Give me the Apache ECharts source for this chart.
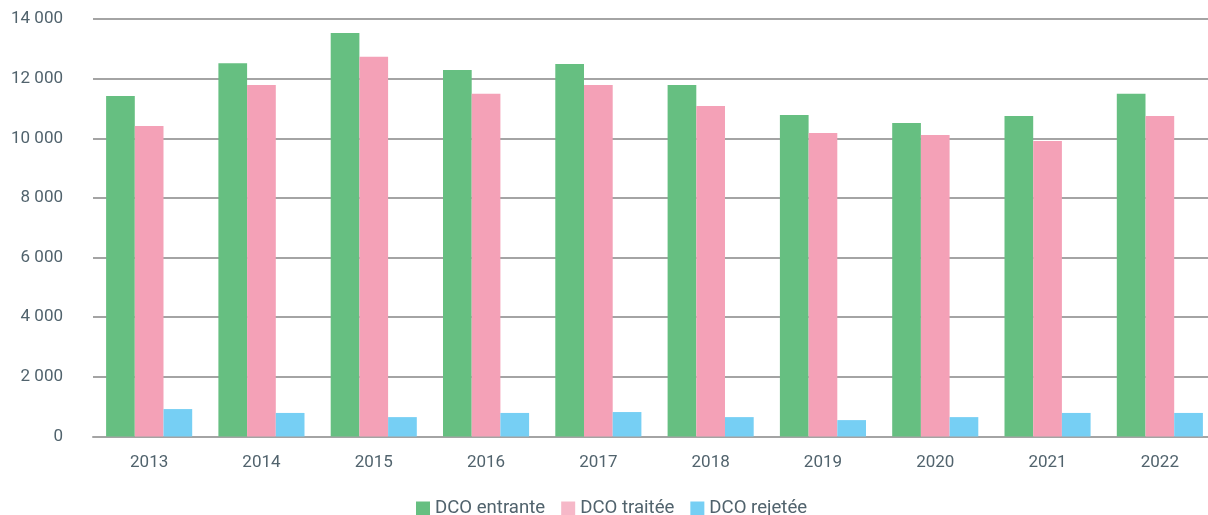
<!DOCTYPE html>
<html>
<head>
<meta charset="utf-8">
<script src="https://cdn.jsdelivr.net/npm/echarts@6/dist/echarts.min.js"></script>
<style>
  html, body { margin: 0; padding: 0; background: #fff; overflow: hidden; }
  #chart { width: 1216px; height: 515px; }
</style>
</head>
<body>
<div id="chart"></div>
<script>
const years = ['2013', '2014', '2015', '2016', '2017', '2018', '2019', '2020', '2021', '2022']
const entrante = [11420, 12520, 13530, 12290, 12490, 11790, 10780, 10510, 10750, 11490]
const traitee = [10410, 11790, 12730, 11490, 11790, 11080, 10180, 10110, 9910, 10750]
const rejetee = [920, 790, 650, 790, 820, 650, 550, 650, 790, 790]

const textColor = '#51636d'
const gridColor = '#a4a4a4'

const fmt = (v) => String(v).replace(/\B(?=(\d{3})+(?!\d))/g, ' ')

// the plot runs a few px past the right edge of the window, as in the original
const chart = echarts.init(document.getElementById('chart'))

const barStyle = {
  type: 'bar',
  barWidth: 28.7,
  barGap: '0%',
  emphasis: { disabled: true }
}

chart.setOption({
  animation: false,
  textStyle: { fontFamily: 'Roboto' },
  grid: { left: 93, right: 0, top: 19, bottom: 78.5 },
  legend: {
    left: 411,
    top: 494,
    itemWidth: 14,
    itemHeight: 14,
    itemGap: 16,
    icon: 'rect',
    textStyle: { color: textColor, fontSize: 18.6 },
    data: [
      { name: 'DCO entrante', itemStyle: { color: '#66bf81' } },
      { name: 'DCO traitée', itemStyle: { color: '#f6b8c8' } },
      { name: 'DCO rejetée', itemStyle: { color: '#76cff4' } }
    ]
  },
  xAxis: {
    type: 'category',
    data: years,
    axisLine: { lineStyle: { color: gridColor, width: 2 } },
    axisTick: { show: false },
    axisLabel: { color: textColor, fontSize: 17, margin: 18 }
  },
  yAxis: {
    type: 'value',
    min: 0,
    max: 14000,
    interval: 2000,
    axisLine: { show: false },
    axisTick: { show: false },
    splitLine: { lineStyle: { color: gridColor, width: 2 } },
    axisLabel: { color: textColor, fontSize: 17, margin: 30, formatter: fmt }
  },
  series: [
    { ...barStyle, name: 'DCO entrante', data: entrante, itemStyle: { color: '#66bf81' } },
    { ...barStyle, name: 'DCO traitée', data: traitee, itemStyle: { color: '#f4a1b7' } },
    { ...barStyle, name: 'DCO rejetée', data: rejetee, itemStyle: { color: '#76cff4' } }
  ]
})
</script>
</body>
</html>
